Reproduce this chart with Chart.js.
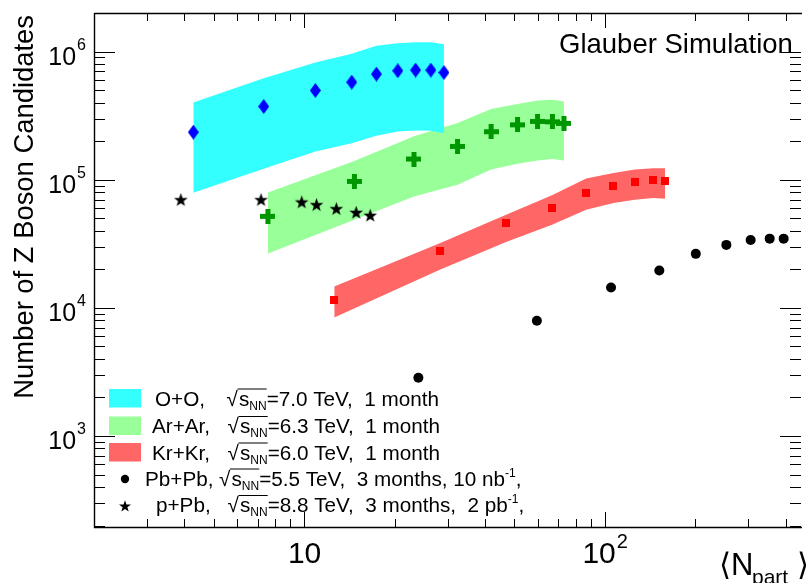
<!DOCTYPE html>
<html>
<head>
<meta charset="utf-8">
<script src="https://cdn.jsdelivr.net/npm/chart.js@4.4.0/dist/chart.umd.min.js"></script>
<style>
  body { margin: 0; background: #fff; }
  #box { width: 806px; height: 583px; }
</style>
</head>
<body>
<div id="box"><canvas id="myChart" width="806" height="583"></canvas></div>
<script>
// <Npart> and number of Z candidates
const ooNpart = [4.28, 7.34, 10.9, 14.4, 17.4, 20.5, 23.5, 26.4, 29.2];
const ooZ     = [2.35e5, 3.73e5, 4.97e5, 5.77e5, 6.67e5, 7.08e5, 7.17e5, 7.17e5, 6.86e5];
const ooHigh  = [4.0e5, 6.2e5, 8.2e5, 9.6e5, 1.11e6, 1.16e6, 1.18e6, 1.18e6, 1.14e6];
const ooLow   = [7.9e4, 1.22e5, 1.66e5, 1.93e5, 2.2e5, 2.38e5, 2.42e5, 2.41e5, 2.31e5];

const arNpart = [7.58, 14.7, 23.2, 32.4, 41.9, 51.3, 59.8, 67.0, 73.2];
const arZ     = [5.18e4, 9.7e4, 1.45e5, 1.82e5, 2.37e5, 2.68e5, 2.85e5, 2.83e5, 2.75e5];
const arHigh  = [7.96e4, 1.4e5, 2.18e5, 2.77e5, 3.56e5, 3.89e5, 4.15e5, 4.2e5, 4.08e5];
const arLow   = [2.65e4, 4.88e4, 7.41e4, 9.15e4, 1.2e5, 1.33e5, 1.41e5, 1.45e5, 1.41e5];

const krNpart = [12.6, 28.4, 47.0, 66.8, 86.8, 107, 126, 145, 159];
const krZ     = [1.15e4, 2.76e4, 4.56e4, 6.01e4, 7.87e4, 8.97e4, 9.52e4, 9.88e4, 9.7e4];
const krHigh  = [1.47e4, 3.21e4, 5.34e4, 7.55e4, 1.02e5, 1.13e5, 1.2e5, 1.23e5, 1.23e5];
const krLow   = [8.4e3, 1.99e4, 3.27e4, 4.46e4, 5.84e4, 6.58e4, 6.98e4, 7.2e4, 7.1e4];

const pbNpart = [24.0, 59.5, 105, 152, 201, 254, 306, 354, 394];
const pbZ     = [2.85e3, 7.93e3, 1.44e4, 1.96e4, 2.64e4, 3.1e4, 3.39e4, 3.47e4, 3.47e4];

const ppbNpart = [3.89, 7.19, 9.82, 11.0, 12.8, 14.9, 16.6];
const ppbZ     = [6.98e4, 6.98e4, 6.7e4, 6.38e4, 5.94e4, 5.56e4, 5.27e4];

// axis ticks
const xMajorTicks = [10, 100];
const xTickExp = ["", "2"];
const xMinorTicks = [3, 4, 5, 6, 7, 8, 9, 20, 30, 40, 50, 60, 70, 80, 90, 200, 300, 400];
const yMajorTicks = [1e3, 1e4, 1e5, 1e6];
const yTickExp = ["3", "4", "5", "6"];
const yMinorTicks = [1e2, 1e3, 1e4, 1e5].flatMap(d => [2, 3, 4, 5, 6, 7, 8, 9].map(m => m * d));

// legend text
const legendNames = ["O+O,", "Ar+Ar,", "Kr+Kr,", "Pb+Pb,", "p+Pb,"];
const legendRest = ["=7.0 TeV,  1 month", "=6.3 TeV,  1 month", "=6.0 TeV,  1 month",
                    "=5.5 TeV,  3 months, 10 nb", "=8.8 TeV,  3 months,  2 pb"];
const legendExp = ["", "", "", "-1", "-1"];

const FONT = "'Liberation Sans', Arial, Helvetica, 'DejaVu Sans', sans-serif";
const cyan = "rgb(51,255,255)";
const lightGreen = "rgb(153,255,153)";
const lightRed = "rgb(255,102,102)";

function marker(w, h, paint) {
  const c = document.createElement("canvas");
  c.width = w;
  c.height = h;
  paint(c.getContext("2d"), w, h);
  return c;
}

function starPath(g, cx, cy, R, r) {
  g.beginPath();
  for (let i = 0; i < 10; i++) {
    const rad = i % 2 === 0 ? R : r;
    const a = -Math.PI / 2 + i * Math.PI / 5;
    g.lineTo(cx + rad * Math.cos(a), cy + rad * Math.sin(a));
  }
  g.closePath();
}

const diamond = marker(11, 15, (g, w, h) => {
  g.fillStyle = "#0000ff";
  g.beginPath();
  g.moveTo(w / 2, 0); g.lineTo(w, h / 2); g.lineTo(w / 2, h); g.lineTo(0, h / 2);
  g.closePath();
  g.fill();
});
const cross = marker(15, 15, (g) => {
  g.fillStyle = "#009600";
  g.fillRect(5, 0, 5, 15);
  g.fillRect(0, 5, 15, 5);
});
const square = marker(8, 8, (g) => {
  g.fillStyle = "#ff0000";
  g.fillRect(0, 0, 8, 8);
});
const star = marker(15, 15, (g) => {
  g.fillStyle = "#000";
  starPath(g, 7.5, 8, 7.2, 2.9);
  g.fill();
});

const pts = (xs, ys) => xs.map((x, i) => ({ x: x, y: ys[i] }));

function bandEdge(xs, ys, color, fill) {
  return {
    data: pts(xs, ys), showLine: true, borderWidth: 0, borderColor: "transparent",
    pointRadius: 0, backgroundColor: color, fill: fill, tension: 0, order: 10
  };
}
function markers(xs, ys, style, color) {
  return {
    data: pts(xs, ys), showLine: false, pointStyle: style, pointRadius: 5,
    backgroundColor: color, borderColor: "transparent", borderWidth: 0, order: 0
  };
}

function drawPower(ctx, x, y, fs, sfs, rise, exp, align) {
  ctx.font = fs + "px " + FONT;
  const w1 = ctx.measureText("10").width;
  ctx.font = sfs + "px " + FONT;
  const w2 = exp ? ctx.measureText(exp).width + 1 : 0;
  let x0 = x;
  if (align === "center") x0 = x - (w1 + w2) / 2;
  if (align === "right") x0 = x - w1 - w2;
  ctx.font = fs + "px " + FONT;
  ctx.fillText("10", x0, y);
  if (exp) {
    ctx.font = sfs + "px " + FONT;
    ctx.fillText(exp, x0 + w1 + 1, y - rise);
  }
}

const framePlugin = {
  id: "rootFrame",
  afterDraw(chart) {
    const ctx = chart.ctx;
    const a = chart.chartArea;
    const sx = chart.scales.x, sy = chart.scales.y;
    ctx.save();
    ctx.strokeStyle = "#000";
    ctx.fillStyle = "#000";

    // frame (right side falls just off the picture)
    ctx.lineWidth = 1.4;
    ctx.beginPath();
    ctx.moveTo(a.right + 1, a.top + 0.5);
    ctx.lineTo(a.left + 0.5, a.top + 0.5);
    ctx.lineTo(a.left + 0.5, a.bottom + 0.5);
    ctx.lineTo(a.right + 1, a.bottom + 0.5);
    ctx.stroke();

    // ticks on all four sides
    ctx.lineWidth = 1;
    ctx.beginPath();
    const xTick = (v, len) => {
      const p = Math.round(sx.getPixelForValue(v)) + 0.5;
      ctx.moveTo(p, a.bottom); ctx.lineTo(p, a.bottom - len);
      ctx.moveTo(p, a.top); ctx.lineTo(p, a.top + len);
    };
    const yTick = (v, len) => {
      if (v < sy.min || v > sy.max) return;
      const p = Math.round(sy.getPixelForValue(v)) + 0.5;
      ctx.moveTo(a.left, p); ctx.lineTo(a.left + len, p);
      ctx.moveTo(a.right, p); ctx.lineTo(a.right - len, p);
    };
    xMajorTicks.forEach(v => xTick(v, 15));
    xMinorTicks.forEach(v => xTick(v, 8));
    yMajorTicks.forEach(v => yTick(v, 21));
    yMinorTicks.forEach(v => yTick(v, 11));
    ctx.stroke();

    // tick labels
    ctx.textBaseline = "alphabetic";
    ctx.textAlign = "left";
    xMajorTicks.forEach((v, i) => {
      drawPower(ctx, sx.getPixelForValue(v) + 0.5, 563, 30, 20, 15, xTickExp[i], "center");
    });
    yMajorTicks.forEach((v, i) => {
      const p = sy.getPixelForValue(v);
      drawPower(ctx, 86, p + 13, 25, 16, 15, yTickExp[i], "right");
    });

    // axis titles
    ctx.save();
    ctx.translate(33, 15);
    ctx.rotate(-Math.PI / 2);
    ctx.textAlign = "right";
    ctx.font = "27.4px " + FONT;
    ctx.fillText("Number of Z Boson Candidates", 0, 0);
    ctx.restore();

    ctx.font = "31px " + FONT;
    ctx.fillText("\u27E8", 719, 575);
    ctx.fillText("N", 731, 575);
    ctx.fillText("\u27E9", 797, 575);
    ctx.font = "21px " + FONT;
    ctx.fillText("part", 752, 584);

    ctx.font = "27.5px " + FONT;
    ctx.fillText("Glauber Simulation", 559, 53);

    // legend
    const LF = 20.7;
    const baselines = [405.5, 433, 459.5, 485.5, 512];
    const nameX = [155, 152, 152, 145, 156];
    const rootX = [226.5, 227.5, 227.5, 219, 227.5];
    const boxColors = [cyan, lightGreen, lightRed];
    boxColors.forEach((c, i) => {
      ctx.fillStyle = c;
      ctx.fillRect(109, baselines[i] - 16.5, 32, 18.5);
    });
    ctx.fillStyle = "#000";
    ctx.beginPath();
    ctx.arc(125, 479, 4.2, 0, Math.PI * 2);
    ctx.fill();
    starPath(ctx, 125, 506.5, 6.3, 2.5);
    ctx.fill();

    legendNames.forEach((name, i) => {
      const b = baselines[i];
      ctx.font = LF + "px " + FONT;
      ctx.fillText(name, nameX[i], b);
      ctx.fillText("\u221A", rootX[i], b);
      const m = ctx.measureText("\u221A");
      const top = b - m.actualBoundingBoxAscent;
      const sX = rootX[i] + m.actualBoundingBoxRight + 0.5;
      ctx.fillText("s", sX, b);
      const sw = ctx.measureText("s").width;
      ctx.font = "12px " + FONT;
      ctx.fillText("NN", sX + sw, b + 4);
      const nw = ctx.measureText("NN").width;
      ctx.lineWidth = 1;
      ctx.beginPath();
      ctx.moveTo(sX - 1.5, top + 0.5);
      ctx.lineTo(sX + sw + nw, top + 0.5);
      ctx.stroke();
      let x = sX + sw + nw;
      ctx.font = LF + "px " + FONT;
      ctx.fillText(legendRest[i], x, b);
      x += ctx.measureText(legendRest[i]).width;
      if (legendExp[i]) {
        ctx.font = "12px " + FONT;
        ctx.fillText(legendExp[i], x, b - 9);
        x += ctx.measureText(legendExp[i]).width;
        ctx.font = LF + "px " + FONT;
        ctx.fillText(",", x, b);
      }
    });
    ctx.restore();
  }
};

const ctx = document.getElementById("myChart").getContext("2d");
new Chart(ctx, {
  type: "line",
  data: {
    datasets: [
      markers(ooNpart, ooZ, diamond, "#0000ff"),
      markers(arNpart, arZ, cross, "#009600"),
      markers(krNpart, krZ, square, "#ff0000"),
      markers(pbNpart, pbZ, "circle", "#000000"),
      markers(ppbNpart, ppbZ, star, "#000000"),
      bandEdge(ooNpart, ooHigh, cyan, "+1"),
      bandEdge(ooNpart, ooLow, cyan, false),
      bandEdge(arNpart, arHigh, lightGreen, "+1"),
      bandEdge(arNpart, arLow, lightGreen, false),
      bandEdge(krNpart, krHigh, lightRed, "+1"),
      bandEdge(krNpart, krLow, lightRed, false)
    ]
  },
  options: {
    responsive: false,
    animation: false,
    devicePixelRatio: 1,
    layout: { padding: { left: 94, top: 13, right: 0, bottom: 56 } },
    plugins: { legend: { display: false }, tooltip: { enabled: false } },
    scales: {
      x: { type: "logarithmic", min: 2, max: 450, display: false },
      y: { type: "logarithmic", min: 195, max: 2e6, display: false }
    }
  },
  plugins: [framePlugin]
});
</script>
</body>
</html>
